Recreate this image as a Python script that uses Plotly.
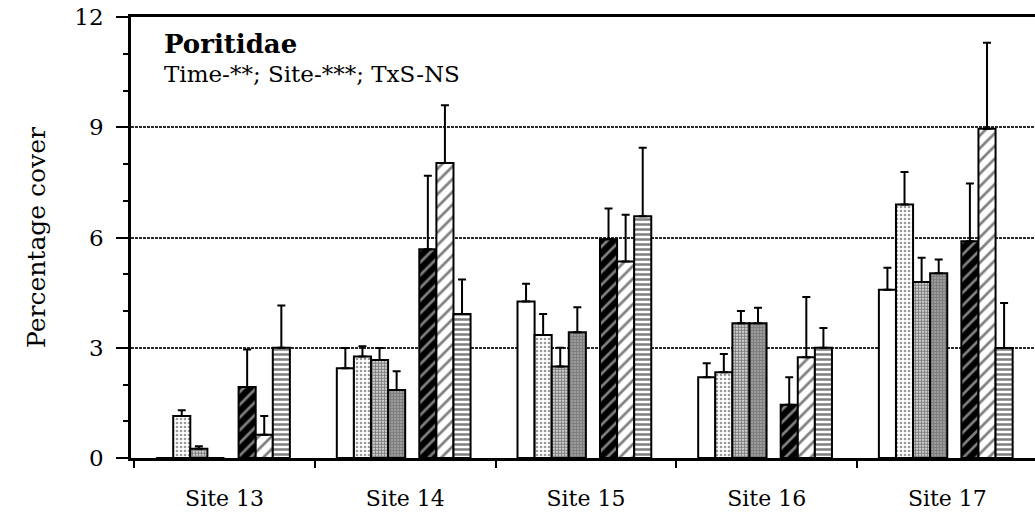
import plotly.graph_objects as go

# ---- data ----
sites = ["Site 13", "Site 14", "Site 15", "Site 16", "Site 17"]

s1_mean = [0.0, 2.44, 4.26, 2.20, 4.58]
s1_se = [None, 0.55, 0.48, 0.38, 0.60]
s2_mean = [1.14, 2.76, 3.35, 2.33, 6.90]
s2_se = [0.16, 0.28, 0.57, 0.50, 0.88]
s3_mean = [0.25, 2.67, 2.49, 3.67, 4.79]
s3_se = [0.07, 0.32, 0.51, 0.33, 0.66]
s4_mean = [0.0, 1.85, 3.42, 3.67, 5.03]
s4_se = [None, 0.51, 0.68, 0.42, 0.37]
s5_mean = [1.93, 5.68, 5.95, 1.45, 5.90]
s5_se = [1.02, 2.00, 0.84, 0.75, 1.57]
s6_mean = [0.63, 8.03, 5.35, 2.74, 8.96]
s6_se = [0.51, 1.57, 1.27, 1.64, 2.34]
s7_mean = [3.00, 3.92, 6.58, 3.00, 2.99]
s7_se = [1.15, 0.94, 1.86, 0.54, 1.23]

y_ticks = [0, 3, 6, 9, 12]

series = [
    (s1_mean, s1_se), (s2_mean, s2_se), (s3_mean, s3_se), (s4_mean, s4_se),
    (s5_mean, s5_se), (s6_mean, s6_se), (s7_mean, s7_se),
]

# ---- styling / layout constants ----
FONT = "DejaVu Serif"
BAR_W = 0.0946
OFFSETS = [-0.379, -0.2844, -0.1898, -0.0952, 0.0775, 0.1721, 0.2667]
PATTERNS = [
    dict(shape="", bgcolor="white", fgcolor="black"),
    dict(shape=".", bgcolor="white", fgcolor="#333333", size=4, solidity=0.35),
    dict(shape=".", bgcolor="white", fgcolor="black", size=3, solidity=0.7),
    dict(shape=".", bgcolor="white", fgcolor="black", size=3, solidity=0.82),
    dict(shape="/", bgcolor="black", fgcolor="white", size=9, solidity=0.3),
    dict(shape="/", bgcolor="white", fgcolor="black", size=9, solidity=0.3),
    dict(shape="-", bgcolor="white", fgcolor="black", size=5, solidity=0.5),
]

fig = go.Figure()
for i, (vals, se) in enumerate(series):
    fig.add_trace(go.Bar(
        x=sites, y=vals,
        width=BAR_W, offset=OFFSETS[i],
        marker=dict(color="white", line=dict(color="black", width=2),
                    pattern=PATTERNS[i]),
        error_y=dict(type="data", symmetric=False, array=se,
                     arrayminus=[0] * len(se), color="black",
                     thickness=2, width=4),
        showlegend=False,
    ))

fig.update_layout(
    width=1035, height=515,
    margin=dict(l=131, r=0, t=17, b=57),
    paper_bgcolor="white", plot_bgcolor="white",
    barmode="overlay",
    font=dict(family=FONT, color="black"),
)

fig.update_xaxes(
    type="category", range=[-0.518, 4.485],
    showline=True, linewidth=2.5, linecolor="black", mirror=True,
    ticks="outside", tickson="boundaries", ticklen=7, tickwidth=2,
    tickcolor="black", showgrid=False,
    tickfont=dict(family=FONT, size=22), ticklabelstandoff=19,
)
fig.update_yaxes(
    range=[0, 12], tickvals=y_ticks,
    showline=True, linewidth=2.5, linecolor="black", mirror=False,
    ticks="outside", ticklen=12, tickwidth=2, tickcolor="black",
    minor=dict(dtick=1, ticks="outside", ticklen=5, tickwidth=2,
               tickcolor="black", showgrid=False),
    showgrid=True, gridcolor="#2a2a2a", gridwidth=2, griddash="3px,1px",
    zeroline=False,
    tickfont=dict(family=FONT, size=23), ticklabelstandoff=8,
    title=dict(text="Percentage cover", font=dict(family=FONT, size=25),
               standoff=22),
)

fig.add_annotation(
    text="<b>Poritidae</b>", xref="paper", yref="paper",
    x=0.034, y=0.939, xanchor="left", yanchor="middle", showarrow=False,
    font=dict(family=FONT, size=26),
)
fig.add_annotation(
    text="Time-**; Site-***; TxS-NS", xref="paper", yref="paper",
    x=0.034, y=0.87, xanchor="left", yanchor="middle", showarrow=False,
    font=dict(family=FONT, size=23),
)

fig.write_html("out.html")
